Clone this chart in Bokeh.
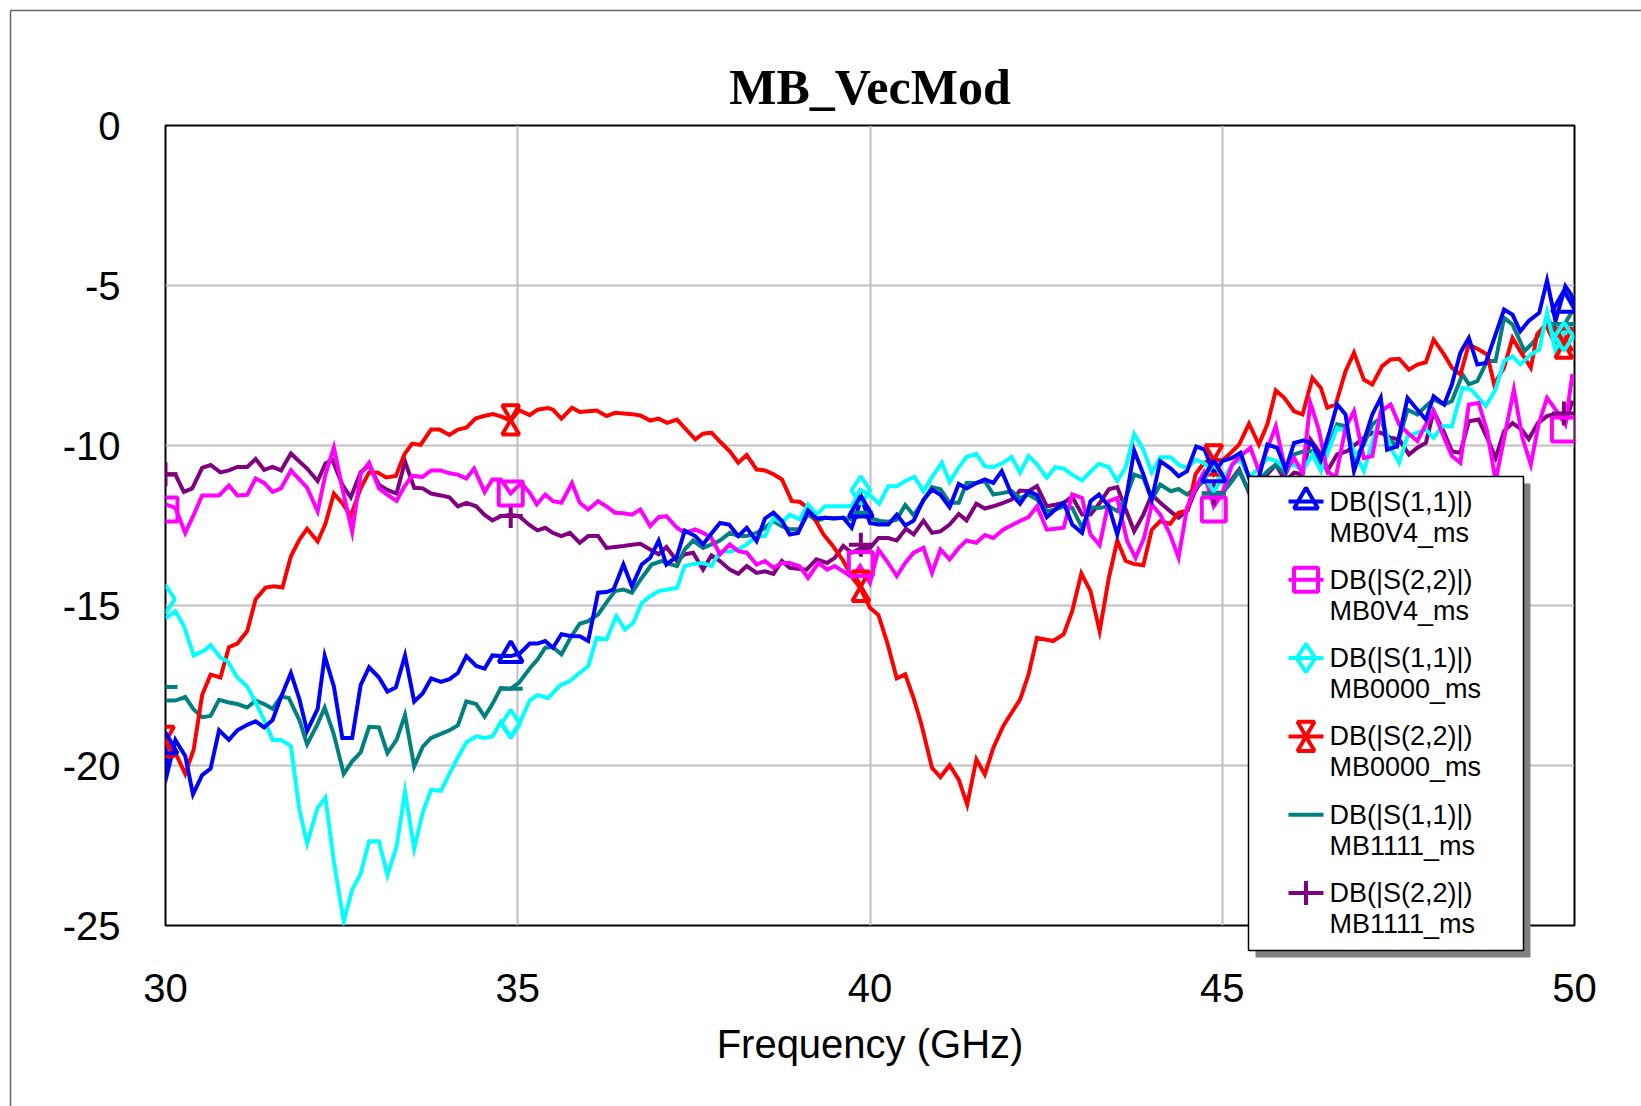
from bokeh.plotting import figure
from bokeh.models import Range1d, FixedTicker
from bokeh.core.properties import value
from bokeh.embed import file_html
from bokeh.resources import INLINE

# ---------------- data ----------------
title_text = "MB_VecMod"
x_label = "Frequency (GHz)"
x_ticks = [30, 35, 40, 45, 50]
x_tick_labels = ["30", "35", "40", "45", "50"]
y_ticks = [-25, -20, -15, -10, -5, 0]
y_tick_labels = ["-25", "-20", "-15", "-10", "-5", "0"]

legend_line1 = ["DB(|S(1,1)|)", "DB(|S(2,2)|)", "DB(|S(1,1)|)",
                "DB(|S(2,2)|)", "DB(|S(1,1)|)", "DB(|S(2,2)|)"]
legend_line2 = ["MB0V4_ms", "MB0V4_ms", "MB0000_ms",
                "MB0000_ms", "MB1111_ms", "MB1111_ms"]

marker_freq = [30.0, 34.9, 39.87, 44.88, 49.85]

# S11 MB0V4 (blue)
f_s11_0v4 = [30.00, 30.03, 30.14, 30.28, 30.39, 30.52, 30.64, 30.76, 30.90, 31.02, 31.16, 31.28, 31.40, 31.52, 31.64,
             31.78, 31.90, 32.01, 32.16, 32.26, 32.39, 32.51, 32.65, 32.77, 32.89, 33.03, 33.15, 33.27, 33.40, 33.53,
             33.65, 33.77, 33.91, 34.03, 34.15, 34.27, 34.41, 34.53, 34.64, 34.76, 34.90, 35.03, 35.17, 35.28, 35.39,
             35.50, 35.62, 35.75, 35.88, 36.00, 36.14, 36.26, 36.36, 36.50, 36.62, 36.76, 36.88, 37.00, 37.11, 37.26,
             37.37, 37.52, 37.63, 37.75, 37.87, 38.00, 38.13, 38.25, 38.39, 38.51, 38.63, 38.75, 38.86, 38.98, 39.12,
             39.24, 39.36, 39.48, 39.62, 39.74, 39.88, 40.00, 40.12, 40.26, 40.38, 40.50, 40.62, 40.76, 40.88, 41.00,
             41.13, 41.26, 41.37, 41.51, 41.63, 41.75, 41.87, 42.01, 42.13, 42.25, 42.37, 42.51, 42.63, 42.75, 42.87,
             43.01, 43.13, 43.25, 43.39, 43.51, 43.63, 43.75, 43.88, 44.00, 44.12, 44.27, 44.38, 44.50, 44.63, 44.75,
             44.88, 45.00, 45.14, 45.26, 45.38, 45.52, 45.64, 45.78, 45.90, 46.02, 46.16, 46.28, 46.40, 46.52, 46.63,
             46.75, 46.87, 47.01, 47.13, 47.25, 47.34, 47.48, 47.63, 47.77, 47.89, 48.00, 48.15, 48.26, 48.38, 48.50,
             48.62, 48.74, 48.88, 49.00, 49.12, 49.23, 49.35, 49.50, 49.61, 49.73, 49.87, 49.95, 50.00]
db_s11_0v4 = [-19.4, -20.2, -19.2, -19.7, -20.9, -20.3, -20.1, -18.9, -19.2, -18.9, -18.73, -18.62, -18.81, -18.58, -17.86,
              -17.11, -17.92, -18.92, -18.23, -16.58, -17.53, -19.14, -19.14, -17.49, -16.93, -17.25, -17.69, -17.56, -16.56, -18.0,
              -17.75, -17.28, -17.39, -17.3, -17.11, -16.58, -16.89, -16.97, -16.56, -16.58, -16.58, -16.5, -16.19, -16.19, -16.11,
              -16.32, -15.9, -15.95, -15.96, -16.11, -14.6, -14.58, -14.5, -13.72, -14.4, -13.72, -13.51, -12.97, -13.72, -13.46,
              -12.66, -12.83, -13.09, -12.75, -12.42, -12.47, -12.83, -12.57, -12.99, -12.28, -12.1, -12.36, -12.78, -12.73, -12.03,
              -12.28, -12.26, -12.28, -12.26, -12.57, -11.64, -12.42, -12.47, -12.47, -12.16, -12.5, -12.35, -11.69, -11.38, -11.54,
              -11.93, -11.2, -11.34, -11.17, -11.06, -11.17, -10.8, -11.53, -11.82, -11.43, -11.55, -12.24, -12.0, -11.79, -12.47,
              -12.73, -11.74, -11.53, -11.9, -12.78, -11.74, -10.16, -10.9, -11.69, -10.49, -10.72, -10.96, -10.8, -10.03, -10.13,
              -10.88, -10.49, -10.39, -10.23, -11.0, -11.01, -9.97, -10.07, -10.75, -9.92, -9.84, -9.97, -10.44, -9.6, -8.72,
              -9.03, -10.8, -9.86, -9.03, -8.51, -10.13, -10.02, -8.51, -8.88, -9.19, -8.46, -8.72, -8.09, -7.1, -6.64,
              -7.47, -7.42, -6.53, -5.75, -5.91, -6.43, -6.11, -5.85, -4.84, -6.11, -5.02, -5.28, -5.6]
mk_s11_0v4 = [-19.4, -16.55, -12.0, -10.9, -5.6]

# S22 MB0V4 (magenta)
f_s22_0v4 = [30.00, 30.14, 30.28, 30.40, 30.52, 30.64, 30.76, 30.90, 31.02, 31.16, 31.28, 31.40, 31.52, 31.64, 31.78,
             31.90, 32.01, 32.16, 32.27, 32.39, 32.51, 32.65, 32.77, 32.89, 33.03, 33.15, 33.28, 33.39, 33.50, 33.65,
             33.77, 33.91, 34.03, 34.15, 34.27, 34.38, 34.53, 34.64, 34.76, 34.90, 35.05, 35.17, 35.27, 35.39, 35.50,
             35.62, 35.77, 35.88, 36.00, 36.14, 36.26, 36.38, 36.50, 36.62, 36.74, 36.88, 37.00, 37.11, 37.26, 37.37,
             37.52, 37.63, 37.75, 37.87, 38.01, 38.13, 38.25, 38.39, 38.51, 38.63, 38.75, 38.86, 39.00, 39.12, 39.27,
             39.39, 39.50, 39.65, 39.75, 39.86, 40.00, 40.12, 40.24, 40.38, 40.50, 40.62, 40.76, 40.88, 41.00, 41.13,
             41.26, 41.37, 41.51, 41.63, 41.75, 41.89, 42.01, 42.13, 42.25, 42.37, 42.51, 42.63, 42.75, 42.87, 43.01,
             43.13, 43.26, 43.39, 43.51, 43.65, 43.77, 43.89, 44.00, 44.12, 44.26, 44.38, 44.50, 44.62, 44.74, 44.88,
             45.00, 45.14, 45.26, 45.40, 45.52, 45.64, 45.76, 45.90, 46.02, 46.14, 46.25, 46.37, 46.49, 46.61, 46.75,
             46.87, 47.01, 47.13, 47.25, 47.39, 47.51, 47.63, 47.77, 47.89, 48.00, 48.15, 48.26, 48.38, 48.50, 48.64,
             48.76, 48.88, 49.14, 49.26, 49.38, 49.49, 49.61, 49.75, 49.87, 49.97]
db_s22_0v4 = [-11.84, -11.95, -12.73, -12.17, -11.56, -11.56, -11.56, -11.25, -11.56, -11.54, -11.03, -11.17, -11.45, -11.34, -10.78,
              -11.06, -11.32, -12.06, -10.91, -10.06, -11.34, -12.7, -10.89, -10.54, -11.34, -11.54, -11.73, -11.28, -10.95, -10.98,
              -10.78, -10.78, -10.87, -10.91, -11.03, -10.72, -11.45, -11.06, -11.06, -11.5, -11.17, -11.48, -11.84, -11.53, -11.74,
              -11.79, -11.17, -11.79, -12.0, -11.74, -11.9, -12.1, -12.12, -12.16, -12.0, -12.52, -12.24, -12.21, -12.57, -12.73,
              -12.62, -12.73, -12.89, -13.4, -13.09, -13.3, -13.35, -13.72, -13.61, -13.82, -13.67, -13.67, -13.77, -14.14, -13.67,
              -13.88, -13.77, -13.98, -14.1, -13.77, -14.29, -13.25, -13.61, -14.08, -13.67, -13.35, -13.2, -13.98, -13.25, -13.56,
              -13.2, -12.97, -13.04, -12.8, -12.89, -12.63, -12.49, -12.36, -12.24, -11.9, -12.63, -12.6, -12.57, -11.53, -11.64,
              -12.78, -13.11, -11.74, -11.64, -12.99, -13.51, -12.89, -11.84, -12.16, -12.78, -13.5, -11.95, -11.32, -10.85, -11.9,
              -11.5, -10.6, -10.33, -10.07, -10.8, -10.1, -9.4, -10.8, -10.39, -10.85, -8.67, -9.5, -10.8, -11.01, -9.45,
              -8.93, -10.39, -10.33, -8.93, -8.72, -9.34, -9.6, -9.86, -9.34, -8.93, -9.76, -10.33, -10.54, -8.72, -8.67,
              -9.55, -11.1, -8.25, -9.76, -10.6, -9.34, -8.51, -8.93, -9.34, -7.77]
mk_s22_0v4 = [-12.0, -11.5, -13.7, -12.0, -9.5]

# S11 MB0000 (cyan)
f_s11_0000 = [30.00, 30.14, 30.26, 30.40, 30.55, 30.64, 30.78, 30.88, 31.02, 31.16, 31.28, 31.40, 31.52, 31.64, 31.78,
              31.90, 32.01, 32.16, 32.27, 32.39, 32.53, 32.65, 32.77, 32.89, 33.03, 33.15, 33.28, 33.40, 33.53, 33.65,
              33.77, 33.91, 34.03, 34.15, 34.27, 34.41, 34.53, 34.64, 34.76, 34.90, 35.02, 35.17, 35.28, 35.43, 35.60,
              35.74, 35.88, 36.00, 36.12, 36.26, 36.40, 36.52, 36.64, 36.76, 36.88, 37.00, 37.13, 37.26, 37.37, 37.49,
              37.63, 37.75, 37.87, 38.01, 38.13, 38.25, 38.39, 38.51, 38.63, 38.75, 38.86, 39.00, 39.12, 39.24, 39.36,
              39.48, 39.62, 39.74, 39.86, 40.00, 40.13, 40.26, 40.38, 40.51, 40.63, 40.76, 40.87, 41.02, 41.13, 41.26,
              41.37, 41.51, 41.63, 41.75, 41.89, 42.01, 42.13, 42.25, 42.37, 42.51, 42.63, 42.75, 42.87, 43.01, 43.13,
              43.25, 43.39, 43.51, 43.63, 43.75, 43.88, 44.00, 44.12, 44.27, 44.38, 44.50, 44.63, 44.75, 44.87, 45.00,
              45.14, 45.26, 45.38, 45.52, 45.64, 45.78, 45.88, 46.02, 46.14, 46.28, 46.40, 46.52, 46.63, 46.75, 46.87,
              47.01, 47.13, 47.25, 47.39, 47.51, 47.63, 47.77, 47.89, 48.00, 48.12, 48.26, 48.41, 48.53, 48.64, 48.74,
              48.88, 49.00, 49.12, 49.23, 49.38, 49.50, 49.61, 49.73, 49.85, 49.97]
db_s11_0000 = [-15.4, -15.18, -15.63, -16.56, -16.41, -16.24, -16.63, -16.74, -17.25, -17.53, -18.03, -18.58, -19.2, -19.2, -19.39,
               -21.37, -22.43, -21.32, -21.01, -23.0, -24.88, -23.88, -23.38, -22.37, -22.37, -23.43, -22.54, -20.81, -22.6, -21.48,
               -20.76, -20.79, -20.26, -19.75, -19.28, -19.09, -19.14, -19.09, -18.64, -19.09, -18.7, -17.97, -17.8, -17.89, -17.5,
               -17.36, -17.1, -16.9, -16.01, -16.06, -15.33, -15.75, -15.54, -14.92, -14.71, -14.55, -14.5, -14.45, -13.77, -13.7,
               -13.67, -13.77, -13.3, -13.32, -13.25, -13.09, -12.83, -12.83, -12.26, -12.42, -12.16, -12.31, -11.84, -12.16, -11.9,
               -11.9, -11.9, -11.9, -11.38, -11.55, -11.82, -11.27, -11.27, -11.1, -10.98, -11.43, -11.02, -10.54, -11.14, -10.68,
               -10.36, -10.26, -10.65, -10.68, -10.54, -10.36, -10.85, -10.33, -10.59, -11.01, -10.68, -10.72, -10.91, -11.09, -10.82,
               -10.57, -10.68, -11.11, -10.68, -9.64, -10.13, -10.85, -10.37, -10.37, -10.6, -10.7, -10.44, -10.57, -10.8, -11.11,
               -10.6, -10.44, -11.01, -10.7, -10.4, -10.49, -10.7, -10.6, -10.8, -10.28, -10.8, -10.1, -9.45, -9.55, -10.18,
               -10.8, -9.9, -9.03, -10.07, -10.54, -9.71, -9.6, -9.5, -9.76, -9.4, -9.4, -8.2, -8.25, -8.51, -8.77,
               -8.25, -7.36, -7.21, -7.47, -7.16, -7.0, -5.85, -7.05, -6.48, -6.33]
mk_s11_0000 = [-14.8, -18.7, -11.4, -11.0, -6.6]

# S22 MB0000 (red)
f_s22_0000 = [30.00, 30.14, 30.28, 30.40, 30.52, 30.64, 30.78, 30.90, 31.02, 31.16, 31.28, 31.42, 31.54, 31.66, 31.78,
              31.90, 32.01, 32.16, 32.27, 32.39, 32.51, 32.63, 32.77, 32.89, 33.01, 33.13, 33.27, 33.39, 33.50, 33.62,
              33.77, 33.89, 34.03, 34.15, 34.27, 34.40, 34.52, 34.65, 34.77, 34.90, 35.02, 35.17, 35.28, 35.43, 35.50,
              35.62, 35.77, 35.88, 36.00, 36.12, 36.26, 36.38, 36.50, 36.62, 36.74, 36.88, 37.00, 37.12, 37.26, 37.39,
              37.52, 37.63, 37.75, 37.88, 38.01, 38.13, 38.25, 38.39, 38.51, 38.63, 38.75, 38.89, 39.00, 39.12, 39.23,
              39.34, 39.46, 39.62, 39.74, 39.86, 40.00, 40.12, 40.25, 40.38, 40.50, 40.62, 40.73, 40.88, 41.00, 41.13,
              41.26, 41.38, 41.51, 41.63, 41.75, 41.89, 42.01, 42.13, 42.25, 42.37, 42.49, 42.60, 42.75, 42.87, 43.00,
              43.13, 43.26, 43.39, 43.51, 43.63, 43.74, 43.88, 44.00, 44.12, 44.26, 44.38, 44.51, 44.62, 44.74, 44.88,
              45.00, 45.12, 45.24, 45.38, 45.52, 45.64, 45.76, 45.88, 46.02, 46.14, 46.28, 46.40, 46.49, 46.61, 46.75,
              46.87, 47.01, 47.13, 47.27, 47.39, 47.51, 47.65, 47.77, 47.89, 48.00, 48.15, 48.26, 48.38, 48.50, 48.64,
              48.76, 48.86, 49.00, 49.12, 49.23, 49.38, 49.47, 49.59, 49.73, 49.85, 49.97]
db_s22_0000 = [-19.25, -19.6, -20.26, -19.5, -17.8, -17.16, -17.25, -16.3, -16.19, -15.8, -14.8, -14.44, -14.4, -14.44, -13.46,
               -12.95, -12.6, -13.0, -12.45, -11.5, -11.8, -12.2, -11.34, -10.84, -10.84, -11.0, -10.95, -10.28, -9.94, -9.98,
               -9.5, -9.5, -9.67, -9.5, -9.44, -9.16, -9.08, -9.02, -9.1, -9.22, -8.9, -9.05, -8.88, -8.83, -8.88,
               -9.16, -8.82, -8.95, -8.93, -8.91, -9.08, -8.98, -9.0, -9.02, -9.06, -9.22, -9.16, -9.29, -9.19, -9.5,
               -9.81, -9.63, -9.6, -9.9, -10.18, -10.54, -10.3, -10.75, -10.78, -10.9, -11.06, -11.74, -11.76, -11.95, -12.35,
               -12.78, -13.1, -13.6, -14.1, -14.45, -15.07, -15.3, -16.2, -17.28, -17.15, -17.9, -18.72, -20.07, -20.36, -19.99,
               -20.44, -21.22, -19.81, -20.28, -19.45, -18.77, -18.35, -17.94, -17.16, -16.01, -16.06, -16.11, -15.9, -15.18, -14.0,
               -14.55, -15.8, -14.14, -12.97, -13.61, -13.7, -13.74, -12.63, -12.36, -12.45, -12.1, -12.03, -10.9, -10.54, -10.44,
               -10.47, -10.23, -9.97, -9.32, -9.97, -9.34, -8.28, -8.51, -8.93, -9.03, -7.89, -8.2, -8.82, -8.72, -7.68,
               -7.1, -7.94, -8.09, -7.52, -7.31, -7.29, -7.63, -7.47, -7.4, -6.69, -7.16, -7.57, -7.78, -6.84, -7.0,
               -7.16, -8.09, -7.57, -6.64, -7.05, -7.57, -6.53, -6.22, -6.84, -6.58, -7.05]
mk_s22_0000 = [-19.25, -9.2, -14.4, -10.45, -6.8]

# S11 MB1111 (teal)
f_s11_1111 = [30.00, 30.14, 30.28, 30.40, 30.52, 30.64, 30.76, 30.90, 31.02, 31.16, 31.28, 31.40, 31.52, 31.64, 31.75,
              31.90, 32.01, 32.16, 32.26, 32.39, 32.53, 32.65, 32.77, 32.89, 33.03, 33.15, 33.28, 33.40, 33.53, 33.65,
              33.77, 33.91, 34.03, 34.15, 34.27, 34.41, 34.53, 34.64, 34.76, 34.90, 35.02, 35.17, 35.28, 35.39, 35.50,
              35.62, 35.75, 35.88, 36.00, 36.14, 36.26, 36.38, 36.50, 36.62, 36.76, 36.90, 37.04, 37.15, 37.26, 37.37,
              37.49, 37.63, 37.75, 37.87, 38.01, 38.13, 38.25, 38.39, 38.51, 38.63, 38.75, 38.86, 39.00, 39.12, 39.24,
              39.36, 39.49, 39.62, 39.74, 39.88, 40.00, 40.14, 40.26, 40.38, 40.50, 40.62, 40.73, 40.88, 41.00, 41.13,
              41.26, 41.37, 41.51, 41.63, 41.75, 41.89, 42.01, 42.13, 42.25, 42.37, 42.51, 42.63, 42.75, 42.87, 43.01,
              43.13, 43.25, 43.39, 43.51, 43.63, 43.75, 43.88, 44.00, 44.12, 44.27, 44.38, 44.50, 44.63, 44.75, 44.88,
              45.00, 45.14, 45.24, 45.38, 45.52, 45.64, 45.76, 45.90, 46.02, 46.16, 46.28, 46.40, 46.52, 46.63, 46.75,
              46.89, 47.01, 47.13, 47.25, 47.34, 47.48, 47.63, 47.77, 47.89, 48.00, 48.15, 48.26, 48.41, 48.50, 48.62,
              48.76, 48.88, 49.00, 49.12, 49.29, 49.41, 49.53, 49.64, 49.76, 49.87, 49.97]
db_s11_1111 = [-17.97, -17.97, -17.86, -18.25, -18.49, -18.45, -17.95, -18.03, -18.08, -18.19, -17.97, -18.08, -18.23, -17.84, -17.89,
               -18.58, -19.34, -18.7, -18.19, -19.03, -20.26, -19.87, -19.59, -18.79, -18.81, -19.61, -19.2, -18.42, -20.03, -19.42,
               -19.14, -19.01, -18.9, -18.75, -18.0, -18.08, -18.47, -18.08, -17.58, -17.6, -17.41, -16.97, -16.69, -16.32, -16.3,
               -16.53, -16.0, -15.57, -15.49, -15.28, -14.9, -14.55, -14.5, -14.6, -14.14, -13.72, -13.61, -13.7, -13.77, -13.25,
               -12.97, -13.2, -13.09, -12.97, -12.73, -12.83, -12.83, -12.73, -12.57, -12.36, -12.52, -12.62, -12.62, -12.14, -12.36,
               -12.26, -12.27, -12.26, -12.31, -12.16, -12.26, -12.36, -12.38, -12.31, -11.86, -12.18, -11.82, -11.3, -11.37, -11.79,
               -11.79, -11.17, -11.17, -11.11, -11.53, -11.48, -11.43, -11.64, -11.53, -11.69, -12.05, -12.0, -11.9, -11.95, -12.57,
               -11.93, -11.95, -11.9, -12.05, -11.64, -10.91, -11.01, -11.69, -11.22, -11.43, -11.36, -11.53, -11.3, -11.1, -11.5,
               -11.5, -11.11, -10.8, -11.43, -11.1, -10.8, -10.6, -10.9, -10.28, -10.18, -10.18, -10.6, -10.0, -9.34, -9.4,
               -10.39, -9.97, -9.34, -9.14, -9.76, -10.02, -8.88, -9.03, -8.77, -8.56, -8.72, -8.61, -7.78, -8.09, -7.99,
               -7.36, -7.36, -6.01, -6.22, -7.05, -6.79, -6.43, -6.11, -6.53, -6.17, -5.8]
mk_s11_1111 = [-17.55, -17.6, -12.1, -11.5, -6.2]

# S22 MB1111 (purple)
f_s22_1111 = [30.00, 30.14, 30.26, 30.38, 30.52, 30.64, 30.78, 30.90, 31.02, 31.16, 31.28, 31.40, 31.52, 31.64, 31.78,
              31.90, 32.01, 32.16, 32.27, 32.37, 32.51, 32.63, 32.77, 32.89, 33.03, 33.15, 33.28, 33.40, 33.53, 33.65,
              33.77, 33.91, 34.03, 34.15, 34.27, 34.41, 34.53, 34.64, 34.76, 34.90, 35.02, 35.17, 35.28, 35.39, 35.50,
              35.62, 35.74, 35.88, 36.00, 36.14, 36.26, 36.38, 36.50, 36.62, 36.74, 36.88, 37.00, 37.11, 37.26, 37.37,
              37.49, 37.63, 37.75, 37.87, 38.01, 38.13, 38.25, 38.39, 38.51, 38.63, 38.75, 38.86, 38.98, 39.10, 39.24,
              39.39, 39.50, 39.62, 39.74, 39.88, 40.00, 40.12, 40.26, 40.38, 40.51, 40.62, 40.76, 40.88, 41.00, 41.13,
              41.26, 41.37, 41.51, 41.63, 41.75, 41.89, 42.01, 42.13, 42.25, 42.37, 42.51, 42.63, 42.75, 42.87, 43.01,
              43.13, 43.26, 43.39, 43.51, 43.63, 43.75, 43.88, 44.00, 44.12, 44.26, 44.38, 44.50, 44.62, 44.74, 44.88,
              45.00, 45.12, 45.24, 45.38, 45.52, 45.64, 45.76, 45.90, 46.02, 46.14, 46.25, 46.37, 46.49, 46.63, 46.77,
              46.89, 47.01, 47.13, 47.25, 47.39, 47.51, 47.65, 47.77, 47.89, 48.00, 48.15, 48.26, 48.38, 48.50, 48.64,
              48.76, 48.88, 49.00, 49.12, 49.25, 49.35, 49.48, 49.61, 49.75, 49.87, 49.97]
db_s22_1111 = [-10.91, -10.91, -11.45, -11.34, -10.7, -10.61, -10.84, -10.78, -10.67, -10.67, -10.42, -10.76, -10.67, -10.78, -10.25,
               -10.5, -10.72, -11.11, -10.56, -10.45, -11.23, -11.62, -10.84, -10.61, -11.23, -11.39, -11.5, -10.5, -11.32, -11.34,
               -11.5, -11.56, -11.62, -11.9, -11.79, -11.9, -12.17, -12.34, -12.21, -12.17, -12.21, -12.49, -12.65, -12.57, -12.73,
               -12.83, -12.73, -13.04, -12.83, -12.83, -13.2, -13.17, -13.14, -13.1, -13.07, -13.25, -13.4, -13.17, -13.61, -13.4,
               -13.35, -13.88, -13.43, -13.61, -13.88, -14.01, -13.77, -13.98, -13.93, -14.01, -13.61, -13.82, -13.85, -13.88, -13.56,
               -13.67, -13.51, -13.14, -13.35, -13.2, -13.2, -12.89, -12.89, -12.97, -12.6, -12.78, -12.35, -12.73, -12.68, -12.47,
               -12.14, -12.34, -11.82, -11.97, -11.9, -11.79, -11.69, -11.41, -11.43, -11.27, -11.9, -11.85, -11.79, -11.6, -12.16,
               -12.16, -11.8, -11.37, -11.3, -12.0, -12.68, -12.16, -11.53, -11.79, -12.05, -12.26, -12.05, -11.4, -11.01, -11.48,
               -11.48, -11.11, -10.75, -11.48, -11.43, -10.9, -10.6, -11.11, -10.85, -10.9, -9.81, -10.18, -10.8, -10.28, -10.18,
               -9.97, -9.76, -9.6, -9.6, -9.76, -9.81, -10.28, -10.07, -9.92, -8.93, -9.6, -10.18, -10.23, -9.24, -9.19,
               -9.76, -10.39, -9.55, -9.3, -9.5, -9.8, -9.3, -9.08, -9.0, -9.3, -8.6]
mk_s22_1111 = [-10.9, -12.2, -13.1, -11.5, -9.0]

# ---------------- layout & styles ----------------
W, H = 1641, 1106
FL, FR, FT, FB = 165, 1574, 125, 925
X0, X1, Y0, Y1 = 30, 50, -25, 0
PX_PER_DB = (FB - FT) / (Y1 - Y0)

LW = 4
MK = 24
HG = 17  # hourglass triangle size


def X(px):
    return X0 + (px - FL) * (X1 - X0) / (FR - FL)


def Y(py):
    return Y1 - (py - FT) / PX_PER_DB


p = figure(width=W, height=H, x_range=Range1d(X0, X1), y_range=Range1d(Y0, Y1),
           output_backend="svg", toolbar_location=None, title=title_text,
           min_border_left=FL, min_border_right=W - FR, min_border_top=FT, min_border_bottom=H - FB)

p.background_fill_color = "white"
p.border_fill_color = "white"
p.outline_line_color = "black"
p.outline_line_width = 2

p.title.text_font = "Liberation Serif"
p.title.text_font_style = "bold"
p.title.text_font_size = "50px"
p.title.align = "center"
p.title.text_color = "black"
p.title.standoff = 22

p.xaxis.ticker = FixedTicker(ticks=x_ticks)
p.yaxis.ticker = FixedTicker(ticks=y_ticks)
p.xaxis.major_label_overrides = dict(zip(x_ticks, x_tick_labels))
p.yaxis.major_label_overrides = dict(zip(y_ticks, y_tick_labels))
for ax in (p.xaxis[0], p.yaxis[0]):
    ax.axis_line_color = None
    ax.major_tick_line_color = None
    ax.minor_tick_line_color = None
    ax.major_tick_out = 0
    ax.major_tick_in = 0
    ax.major_label_text_font = "Liberation Sans"
    ax.major_label_text_font_size = "40px"
    ax.major_label_text_color = "black"
p.xaxis.major_label_standoff = 48
p.yaxis.major_label_standoff = 45
p.xaxis.axis_label = x_label
p.xaxis.axis_label_text_font = "Liberation Sans"
p.xaxis.axis_label_text_font_size = "40px"
p.xaxis.axis_label_text_font_style = "normal"
p.xaxis.axis_label_text_color = "black"
p.xaxis.axis_label_standoff = 17

p.xgrid.grid_line_color = "#C0C0C0"
p.ygrid.grid_line_color = "#C0C0C0"
p.xgrid.grid_line_width = 2
p.ygrid.grid_line_width = 2

series = [
    (f_s11_0v4, db_s11_0v4, mk_s11_0v4, "#0000FF", "triangle"),
    (f_s22_0v4, db_s22_0v4, mk_s22_0v4, "#FF00FF", "square"),
    (f_s11_0000, db_s11_0000, mk_s11_0000, "#00FFFF", "diamond"),
    (f_s22_0000, db_s22_0000, mk_s22_0000, "#FF0000", "hourglass"),
    (f_s11_1111, db_s11_1111, mk_s11_1111, "#008080", "dash"),
    (f_s22_1111, db_s22_1111, mk_s22_1111, "#800080", "cross"),
]


def draw_marker(kind, xs, ys, color, level):
    if kind == "hourglass":
        d = (2.0 / 3.0) * 0.8660254 * HG / PX_PER_DB
        p.scatter(xs, [v - d for v in ys], marker="triangle", size=HG, line_color=color,
                  fill_color=None, line_width=LW, level=level)
        p.scatter(xs, [v + d for v in ys], marker="inverted_triangle", size=HG, line_color=color,
                  fill_color=None, line_width=LW, level=level)
    else:
        size = 28 if kind == "diamond" else MK
        p.scatter(xs, ys, marker=kind, size=size, line_color=color,
                  fill_color=None, line_width=LW, level=level)


for fx, dbv, mk, color, kind in reversed(series):
    p.line(fx, dbv, line_color=color, line_width=LW, line_join="miter")
for fx, dbv, mk, color, kind in reversed(series):
    draw_marker(kind, marker_freq, mk, color, "glyph")

# outer page border
p.line([X(10), X(W + 20)], [Y(10), Y(10)], line_color="#666666", line_width=1.5, level="overlay")
p.line([X(10), X(10)], [Y(10), Y(H + 20)], line_color="#666666", line_width=1.5, level="overlay")

# legend (drawn outside the frame, like the reference)
LG_L, LG_T, LG_R, LG_B = 1248, 476, 1523, 950
SH = 7
p.quad(left=[X(LG_L + SH)], right=[X(LG_R + SH)], top=[Y(LG_T + SH)], bottom=[Y(LG_B + SH)],
       fill_color="#808080", line_color=None, level="overlay")
p.quad(left=[X(LG_L)], right=[X(LG_R)], top=[Y(LG_T)], bottom=[Y(LG_B)],
       fill_color="white", line_color="black", line_width=1.5, level="overlay")

ROW0, ROW_STEP, LINE2 = 501, 78.3, 31
for i, (fx, dbv, mk, color, kind) in enumerate(series):
    yl = ROW0 + ROW_STEP * i
    p.line([X(1288), X(1323)], [Y(yl), Y(yl)], line_color=color, line_width=LW, level="overlay")
    if kind != "dash":
        draw_marker(kind, [X(1305.5)], [Y(yl)], color, "overlay")

text_x, text_y, text_s = [], [], []
for i in range(len(series)):
    yl = ROW0 + ROW_STEP * i
    text_x += [X(1329), X(1329)]
    text_y += [Y(yl), Y(yl + LINE2)]
    text_s += [legend_line1[i], legend_line2[i]]
p.text(x=text_x, y=text_y, text=text_s, text_font=value("Liberation Sans"),
       text_font_size=value("27px"), text_baseline="middle", text_align="left",
       text_color="black", level="overlay")

open("out.html", "w").write(file_html(p, INLINE))
